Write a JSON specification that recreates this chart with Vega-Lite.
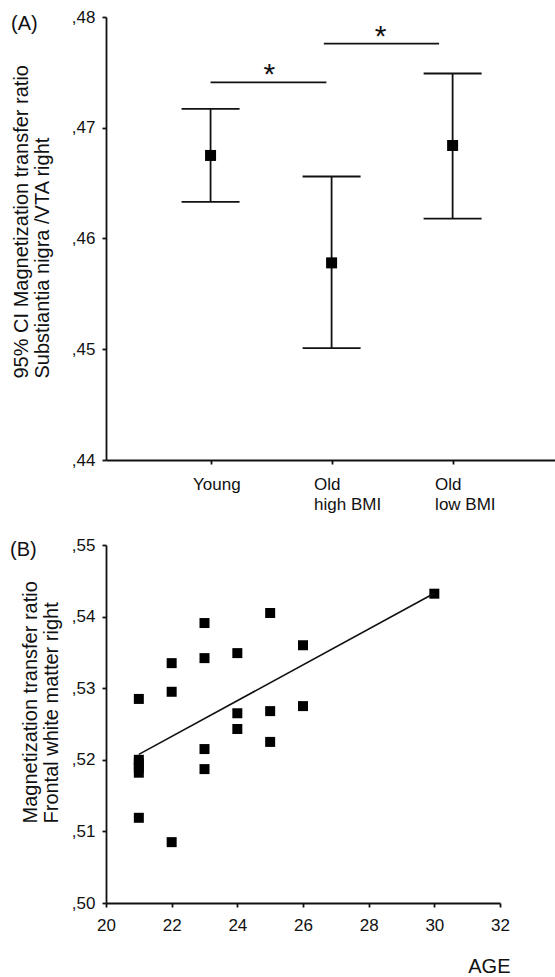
{
  "$schema": "https://vega.github.io/schema/vega-lite/v6.json",
  "padding": {"left": 10, "top": 8, "right": 0, "bottom": 0},
  "spacing": 24,
  "config": {
    "view": {"stroke": null},
    "font": "Liberation Sans",
    "axis": {
      "domainColor": "#111", "tickColor": "#111", "labelColor": "#111", "titleColor": "#111",
      "labelFont": "Liberation Sans", "titleFont": "Liberation Sans",
      "labelFontSize": 17, "titleFontSize": 20, "titleFontWeight": "normal",
      "grid": false, "domainWidth": 1.8, "tickWidth": 1.8, "tickSize": 4,
      "labelOverlap": false, "labelFlush": false
    },
    "title": {"font": "Liberation Sans", "fontSize": 20, "fontWeight": "normal", "color": "#111"}
  },
  "vconcat": [
    {
      "width": 449,
      "height": 443,
      "title": {"text": "(A)", "anchor": "start", "frame": "bounds", "offset": 0, "dy": 26},
      "data": {"values": [
        {"g": 0, "mean": 0.4675, "lo": 0.4633, "hi": 0.4717},
        {"g": 1, "mean": 0.4578, "lo": 0.4501, "hi": 0.4656},
        {"g": 2, "mean": 0.4684, "lo": 0.4618, "hi": 0.4749}
      ]},
      "layer": [
        {
          "mark": {"type": "rule", "strokeWidth": 1.8, "color": "#111"},
          "encoding": {
            "x": {"field": "g", "type": "quantitative",
              "scale": {"domain": [-0.864, 2.846], "nice": false, "zero": false},
              "axis": {"values": [0, 1, 2], "title": null,
                "labelExpr": "datum.value == 0 ? 'Young' : datum.value == 1 ? ['Old', 'high BMI'] : ['Old', 'low BMI']",
                "labelAlign": "left", "labelOffset": -18, "labelPadding": 12, "labelBaseline": "top", "labelLineHeight": 20}},
            "y": {"field": "lo", "type": "quantitative",
              "scale": {"domain": [0.44, 0.48], "nice": false, "zero": false},
              "axis": {"values": [0.44, 0.45, 0.46, 0.47, 0.48],
                "labelExpr": "replace(format(datum.value, '.2f'), '0.', ',')",
                "labelPadding": 7,
                "title": ["95% CI  Magnetization transfer ratio", "Substiantia nigra /VTA right"],
                "titleAngle": -90, "titleAlign": "left", "titleBaseline": "top",
                "titleX": -95, "titleY": 361, "titleLineHeight": 21}},
            "y2": {"field": "hi"}
          }
        },
        {
          "mark": {"type": "tick", "orient": "horizontal", "size": 58, "thickness": 1.8, "color": "#111", "opacity": 1},
          "encoding": {"x": {"field": "g", "type": "quantitative"}, "y": {"field": "hi", "type": "quantitative"}}
        },
        {
          "mark": {"type": "tick", "orient": "horizontal", "size": 58, "thickness": 1.8, "color": "#111", "opacity": 1},
          "encoding": {"x": {"field": "g", "type": "quantitative"}, "y": {"field": "lo", "type": "quantitative"}}
        },
        {
          "mark": {"type": "point", "shape": "square", "filled": true, "size": 121, "color": "#000", "opacity": 1},
          "encoding": {"x": {"field": "g", "type": "quantitative"}, "y": {"field": "mean", "type": "quantitative"}}
        },
        {
          "data": {"values": [
            {"a": 0, "b": 0.957, "y": 0.4741},
            {"a": 0.936, "b": 1.888, "y": 0.4776}
          ]},
          "mark": {"type": "rule", "strokeWidth": 1.8, "color": "#111"},
          "encoding": {"x": {"field": "a", "type": "quantitative"}, "x2": {"field": "b"}, "y": {"field": "y", "type": "quantitative"}}
        },
        {
          "data": {"values": [
            {"x": 0.485, "y": 0.4741, "t": "*"},
            {"x": 1.404, "y": 0.4776, "t": "*"}
          ]},
          "mark": {"type": "text", "fontSize": 30, "baseline": "alphabetic", "align": "center", "color": "#111", "dy": 2},
          "encoding": {"x": {"field": "x", "type": "quantitative"}, "y": {"field": "y", "type": "quantitative"}, "text": {"field": "t"}}
        }
      ]
    },
    {
      "width": 394,
      "height": 358,
      "title": {"text": "(B)", "anchor": "start", "frame": "bounds", "offset": 0, "dy": 24, "dx": -10},
      "data": {"values": [
        {"age": 21, "mtr": 0.5285},
        {"age": 21, "mtr": 0.5200},
        {"age": 21, "mtr": 0.5195},
        {"age": 21, "mtr": 0.5189},
        {"age": 21, "mtr": 0.5182},
        {"age": 21, "mtr": 0.5119},
        {"age": 22, "mtr": 0.5335},
        {"age": 22, "mtr": 0.5295},
        {"age": 22, "mtr": 0.5085},
        {"age": 23, "mtr": 0.5391},
        {"age": 23, "mtr": 0.5342},
        {"age": 23, "mtr": 0.5215},
        {"age": 23, "mtr": 0.5187},
        {"age": 24, "mtr": 0.5349},
        {"age": 24, "mtr": 0.5265},
        {"age": 24, "mtr": 0.5243},
        {"age": 25, "mtr": 0.5405},
        {"age": 25, "mtr": 0.5268},
        {"age": 25, "mtr": 0.5225},
        {"age": 26, "mtr": 0.5360},
        {"age": 26, "mtr": 0.5275},
        {"age": 30, "mtr": 0.5432}
      ]},
      "layer": [
        {
          "mark": {"type": "point", "shape": "square", "filled": true, "size": 100, "color": "#000", "opacity": 1},
          "encoding": {
            "x": {"field": "age", "type": "quantitative",
              "scale": {"domain": [20, 32], "nice": false, "zero": false},
              "axis": {"values": [20, 22, 24, 26, 28, 30, 32], "labelPadding": 10,
                "title": "AGE", "titleAlign": "right", "titleBaseline": "alphabetic", "titleAnchor": "end",
                "titleX": 404, "titleY": 69}},
            "y": {"field": "mtr", "type": "quantitative",
              "scale": {"domain": [0.5, 0.55], "nice": false, "zero": false},
              "axis": {"values": [0.5, 0.51, 0.52, 0.53, 0.54, 0.55],
                "labelExpr": "replace(format(datum.value, '.2f'), '0.', ',')",
                "labelPadding": 7,
                "title": ["Magnetization transfer ratio", "Frontal white matter right"],
                "titleAngle": -90, "titleAlign": "left", "titleBaseline": "top",
                "titleX": -86, "titleY": 278, "titleLineHeight": 21}}
          }
        },
        {
          "transform": [{"regression": "mtr", "on": "age", "extent": [21, 30]}],
          "mark": {"type": "line", "strokeWidth": 1.6, "color": "#111"},
          "encoding": {"x": {"field": "age", "type": "quantitative"}, "y": {"field": "mtr", "type": "quantitative"}}
        }
      ]
    }
  ]
}
